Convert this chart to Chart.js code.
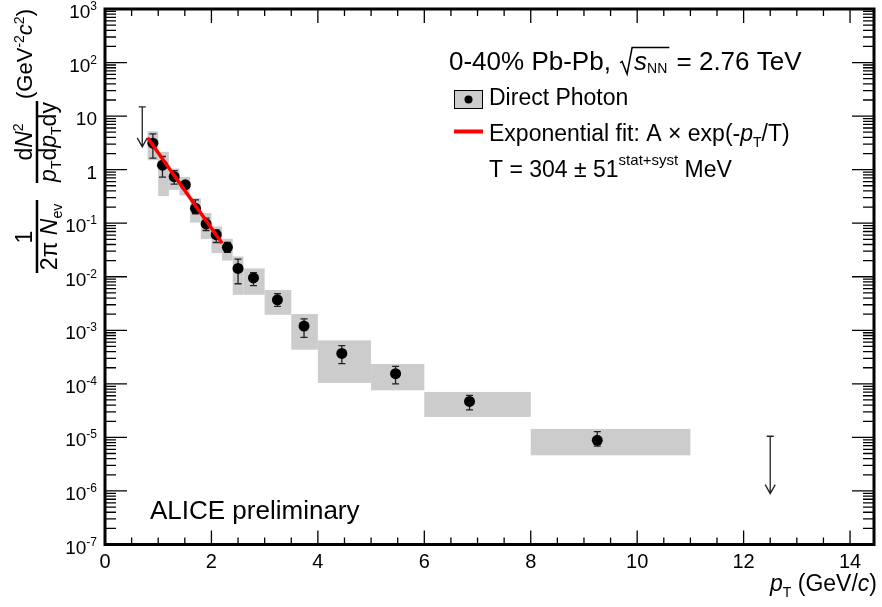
<!DOCTYPE html>
<html>
<head>
<meta charset="utf-8">
<title>Direct photon spectrum</title>
<script src="https://cdn.jsdelivr.net/npm/chart.js@4.4.1/dist/chart.umd.min.js"></script>
<style>
  body { margin: 0; background: #fff; }
  #wrap { width: 882px; height: 607px; position: relative; }
</style>
</head>
<body>
<div id="wrap"><canvas id="chart"></canvas></div>
<script>
// pT bins (GeV/c)
const binLow  = [0.8, 1.0, 1.2, 1.4, 1.6, 1.8, 2.0, 2.2, 2.4, 2.6, 3.0, 3.5, 4.0, 5.0, 6.0, 8.0];
const binHigh = [1.0, 1.2, 1.4, 1.6, 1.8, 2.0, 2.2, 2.4, 2.6, 3.0, 3.5, 4.0, 5.0, 6.0, 8.0, 11.0];
const ptCenter = [0.9, 1.08, 1.3, 1.51, 1.7, 1.9, 2.09, 2.3, 2.5, 2.79, 3.24, 3.74, 4.45, 5.46, 6.85, 9.25];

// invariant yield and uncertainties
const yieldVal = [3.12, 1.21, 0.74, 0.52, 0.19, 0.097, 0.061, 0.0355, 0.0143, 0.0095, 0.0037, 0.0012, 3.7e-4, 1.55e-4, 4.7e-5, 8.8e-6];
const statHigh = [4.65, 1.76, 0.96, 0.58, 0.273, 0.124, 0.075, 0.0436, 0.0214, 0.0119, 0.00482, 0.00164, 5.16e-4, 2.12e-4, 6.1e-5, 1.28e-5];
const statLow  = [1.64, 0.724, 0.537, 0.46, 0.15, 0.073, 0.0436, 0.0284, 0.0074, 0.0068, 0.00279, 7.35e-4, 2.38e-4, 9.95e-5, 3.26e-5, 6.9e-6];
const systHigh = [5.2, 2.15, 1.05, 0.73, 0.294, 0.155, 0.087, 0.0512, 0.0239, 0.0143, 0.00565, 0.00201, 6.48e-4, 2.35e-4, 7.06e-5, 1.44e-5];
const systLow  = [1.5, 0.32, 0.42, 0.33, 0.103, 0.0505, 0.0277, 0.0201, 0.0046, 0.0046, 0.00195, 4.34e-4, 1.04e-4, 7.57e-5, 2.41e-5, 4.63e-6];

// upper limits
const ulPt = [0.7, 12.5];
const ulValue = [14.9, 1.05e-5];
const ulArrowEnd = [2.66, 8.9e-7];

// exponential fit, end points
const fitPt = [0.8, 2.2];
const fitValue = [3.95, 0.0423];

// axes
const xMin = 0, xMax = 14.45;
const yMin = 1e-7, yMax = 1e3;
const xMajorTicks = [0, 2, 4, 6, 8, 10, 12, 14];
const xMinorStep = 0.5;
const yDecades = [3, 2, 1, 0, -1, -2, -3, -4, -5, -6, -7];

const FONT = '"Liberation Sans", Arial, Helvetica, sans-serif';

function setFont(ctx, size, italic) {
  ctx.font = (italic ? 'italic ' : '') + size + 'px ' + FONT;
}

// parts: {t, s, i, dy}
function rich(ctx, x, y, parts, align) {
  const w = parts.map(p => { setFont(ctx, p.s, p.i); return ctx.measureText(p.t).width + (p.gap || 0); });
  const total = w.reduce((a, b) => a + b, 0);
  let cx = align === 'right' ? x - total : align === 'center' ? x - total / 2 : x;
  parts.forEach((p, k) => {
    setFont(ctx, p.s, p.i);
    ctx.fillText(p.t, cx, y + (p.dy || 0));
    cx += w[k];
  });
  return cx;
}

const rootStyle = {
  id: 'rootStyle',
  beforeDatasetsDraw(chart) {
    const { ctx, scales: { x, y } } = chart;
    ctx.save();
    // systematic boxes
    ctx.fillStyle = '#cccccc';
    for (let k = 0; k < binLow.length; k++) {
      const x0 = x.getPixelForValue(binLow[k]), x1 = x.getPixelForValue(binHigh[k]);
      const y0 = y.getPixelForValue(systHigh[k]), y1 = y.getPixelForValue(systLow[k]);
      ctx.fillRect(x0, y0, x1 - x0, y1 - y0);
    }
    // stat error bars
    ctx.strokeStyle = '#222';
    ctx.lineWidth = 1.3;
    ctx.beginPath();
    for (let k = 0; k < ptCenter.length; k++) {
      const px = x.getPixelForValue(ptCenter[k]);
      const yh = y.getPixelForValue(statHigh[k]), yl = y.getPixelForValue(statLow[k]);
      ctx.moveTo(px, yh); ctx.lineTo(px, yl);
      ctx.moveTo(px - 3.5, yh); ctx.lineTo(px + 3.5, yh);
      ctx.moveTo(px - 3.5, yl); ctx.lineTo(px + 3.5, yl);
    }
    // upper limit arrows
    for (let k = 0; k < ulPt.length; k++) {
      const px = x.getPixelForValue(ulPt[k]);
      const yt = y.getPixelForValue(ulValue[k]), yb = y.getPixelForValue(ulArrowEnd[k]);
      ctx.moveTo(px - 3.5, yt); ctx.lineTo(px + 3.5, yt);
      ctx.moveTo(px, yt); ctx.lineTo(px, yb);
      ctx.moveTo(px - 5, yb - 9); ctx.lineTo(px, yb); ctx.lineTo(px + 5, yb - 9);
    }
    ctx.stroke();
    ctx.restore();
  },
  afterDraw(chart) {
    const { ctx, chartArea: a, scales: { x, y } } = chart;
    ctx.save();
    ctx.fillStyle = '#000';
    ctx.strokeStyle = '#000';

    // ticks
    ctx.lineWidth = 1.3;
    ctx.beginPath();
    for (let v = xMin; v <= xMax + 1e-9; v += xMinorStep) {
      const px = x.getPixelForValue(v);
      const len = xMajorTicks.includes(v) ? 14 : 7;
      ctx.moveTo(px, a.bottom); ctx.lineTo(px, a.bottom - len);
      ctx.moveTo(px, a.top); ctx.lineTo(px, a.top + len);
    }
    for (const e of yDecades) {
      for (let m = 1; m <= 9; m++) {
        const v = m * Math.pow(10, e);
        if (v > yMax * 1.0001 || v < yMin * 0.9999) continue;
        const py = y.getPixelForValue(v);
        const len = m === 1 ? 22 : 11;
        ctx.moveTo(a.left, py); ctx.lineTo(a.left + len, py);
        ctx.moveTo(a.right, py); ctx.lineTo(a.right - len, py);
      }
    }
    ctx.stroke();

    // frame
    ctx.lineWidth = 3;
    ctx.strokeRect(a.left, a.top, a.right - a.left, a.bottom - a.top);

    // x tick labels
    ctx.textBaseline = 'alphabetic';
    ctx.textAlign = 'center';
    setFont(ctx, 20, false);
    xMajorTicks.forEach(v => ctx.fillText(String(v), x.getPixelForValue(v), 568));

    // y tick labels
    ctx.textAlign = 'left';
    yDecades.forEach(e => {
      const py = y.getPixelForValue(Math.pow(10, e)) + 9;
      if (e === 0) rich(ctx, 97, py, [{ t: '1', s: 19 }], 'right');
      else if (e === 1) rich(ctx, 97, py, [{ t: '10', s: 19 }], 'right');
      else rich(ctx, 97, py, [{ t: '10', s: 19 }, { t: String(e), s: 12, dy: -8 }], 'right');
    });

    // x title
    rich(ctx, 877, 591, [
      { t: 'p', s: 23, i: true },
      { t: 'T', s: 14, dy: 6 },
      { t: ' (GeV/', s: 23 },
      { t: 'c', s: 23, i: true },
      { t: ')', s: 23 }
    ], 'right');

    // y title, rotated
    ctx.save();
    ctx.rotate(-Math.PI / 2);
    ctx.lineWidth = 2.5;
    ctx.beginPath();
    ctx.moveTo(-273, 37); ctx.lineTo(-200, 37);
    ctx.moveTo(-183, 37); ctx.lineTo(-101, 37);
    ctx.stroke();
    rich(ctx, -237, 32, [{ t: '1', s: 23 }], 'center');
    rich(ctx, -237, 57, [
      { t: '2\u03c0 ', s: 23 },
      { t: 'N', s: 23, i: true },
      { t: 'ev', s: 14, dy: 5 }
    ], 'center');
    rich(ctx, -142, 32, [
      { t: 'd', s: 23 },
      { t: 'N', s: 23, i: true },
      { t: '2', s: 14, dy: -9 }
    ], 'center');
    rich(ctx, -142, 56, [
      { t: 'p', s: 23, i: true },
      { t: 'T', s: 14, dy: 5 },
      { t: 'd', s: 23 },
      { t: 'p', s: 23, i: true },
      { t: 'T', s: 14, dy: 5 },
      { t: 'dy', s: 23 }
    ], 'center');
    rich(ctx, -54, 32, [
      { t: '(GeV', s: 22 },
      { t: '-2', s: 14, dy: -8 },
      { t: 'c', s: 22, i: true },
      { t: '2', s: 14, dy: -8 },
      { t: ')', s: 22 }
    ], 'center');
    ctx.restore();

    // header
    let cx = rich(ctx, 449, 70, [{ t: '0-40% Pb-Pb, ', s: 26 }], 'left');
    ctx.lineWidth = 1.5;
    ctx.beginPath();
    ctx.moveTo(cx + 2, 63); ctx.lineTo(cx + 4, 61.5); ctx.lineTo(cx + 9, 74);
    ctx.lineTo(cx + 14, 47.5);
    const sx = cx + 16;
    let ex = rich(ctx, sx, 70, [{ t: 's', s: 26, i: true }, { t: 'NN', s: 14, dy: 3, gap: 2 }], 'left');
    ctx.lineTo(ex, 47.5);
    ctx.stroke();
    rich(ctx, ex, 70, [{ t: ' = 2.76 TeV', s: 26 }], 'left');

    // legend entries
    ctx.fillStyle = '#cccccc';
    ctx.fillRect(454, 90, 29, 19);
    ctx.lineWidth = 1;
    ctx.strokeRect(454.5, 90.5, 28, 18);
    ctx.fillStyle = '#000';
    ctx.beginPath();
    ctx.arc(468.5, 99.5, 4, 0, Math.PI * 2);
    ctx.fill();
    rich(ctx, 489, 105, [{ t: 'Direct Photon', s: 23 }], 'left');

    ctx.strokeStyle = '#ff0000';
    ctx.lineWidth = 4;
    ctx.beginPath();
    ctx.moveTo(454, 131.5); ctx.lineTo(483, 131.5);
    ctx.stroke();
    rich(ctx, 489, 141, [
      { t: 'Exponential fit: A \u00d7 exp(-', s: 23 },
      { t: 'p', s: 23, i: true },
      { t: 'T', s: 14, dy: 6 },
      { t: '/T)', s: 23 }
    ], 'left');
    rich(ctx, 489, 177, [
      { t: 'T = 304 \u00b1 51', s: 23 },
      { t: 'stat+syst', s: 15, dy: -12 },
      { t: ' MeV', s: 23 }
    ], 'left');

    rich(ctx, 150, 519, [{ t: 'ALICE preliminary', s: 26 }], 'left');
    ctx.restore();
  }
};

const points = ptCenter.map((p, k) => ({ x: p, y: yieldVal[k] }));
const fitLine = fitPt.map((p, k) => ({ x: p, y: fitValue[k] }));

new Chart(document.getElementById('chart'), {
  type: 'scatter',
  data: {
    datasets: [
      {
        type: 'line',
        label: 'Exponential fit',
        data: fitLine,
        borderColor: '#ff0000',
        borderWidth: 3.5,
        pointRadius: 0,
        fill: false,
        order: 0
      },
      {
        label: 'Direct Photon',
        data: points,
        backgroundColor: '#000',
        borderWidth: 0,
        pointRadius: 5.5,
        order: 1
      }
    ]
  },
  options: {
    responsive: true,
    maintainAspectRatio: false,
    animation: false,
    layout: { padding: { left: 105, right: 8, top: 9, bottom: 62.5 } },
    scales: {
      x: { type: 'linear', min: xMin, max: xMax, display: false },
      y: { type: 'logarithmic', min: yMin, max: yMax, display: false }
    },
    plugins: {
      legend: { display: false },
      tooltip: { enabled: false }
    }
  },
  plugins: [rootStyle]
});
</script>
</body>
</html>
